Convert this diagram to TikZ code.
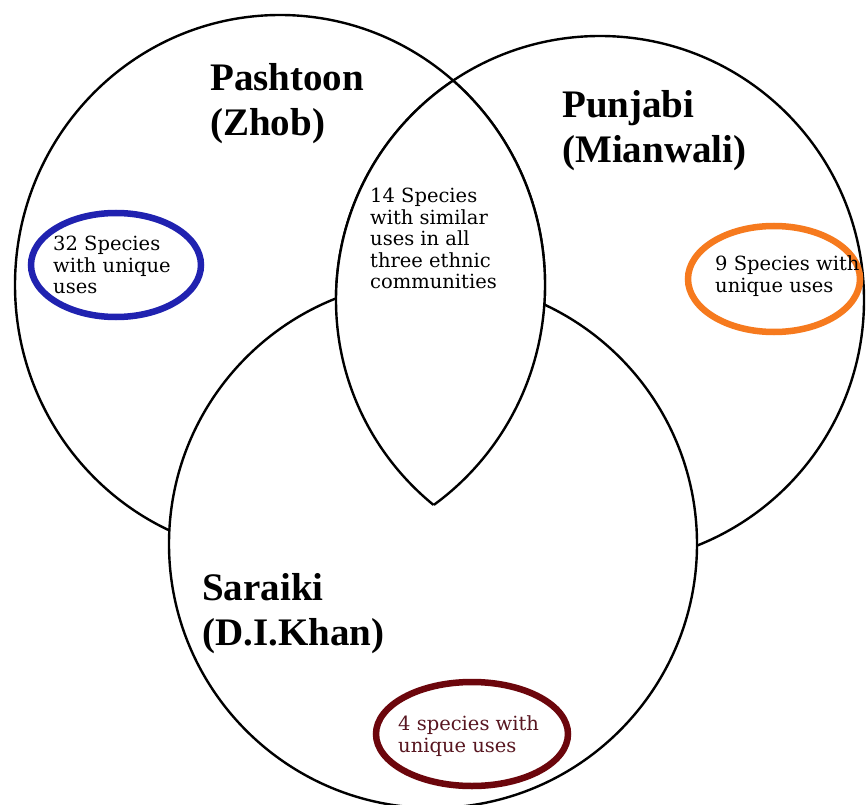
\documentclass[tikz,border=0pt]{standalone}
\usepackage{fontspec}
\setmainfont{Liberation Serif}
\newfontfamily\smallserif{DejaVu Serif}
\definecolor{tagblue}{RGB}{32,34,176}
\definecolor{tagorange}{RGB}{246,122,30}
\definecolor{tagmaroon}{RGB}{108,6,12}
\definecolor{textmaroon}{RGB}{88,22,32}
\begin{document}
\begin{tikzpicture}[x=1pt,y=-1pt,
  ring/.style={line width=2.4pt},
  tagring/.style={line width=6.5pt},
  biglabel/.style={font=\bfseries\fontsize{39}{45}\selectfont, align=left, anchor=north west, inner sep=0pt},
  smalllabel/.style={font=\smallserif\fontsize{19.5}{21.5}\selectfont, align=left, anchor=north west, inner sep=0pt}]
\useasboundingbox (0,0) rectangle (867,805);
\fill[white] (0,0) rectangle (867,805);
\coordinate (cL) at (280,285);
\coordinate (cR) at (600,300);
\coordinate (cB) at (433,544);
% left and right sets
\draw[ring] (cL) ellipse [x radius=265pt, y radius=270pt];
\draw[ring] (cR) circle [radius=264pt];
% bottom set, opaque
\draw[ring, fill=white] (cB) circle [radius=264pt];
% lens in front
\begin{scope}
  \clip (cL) ellipse [x radius=265pt, y radius=270pt];
  \fill[white] (cR) circle [radius=264pt];
  \draw[ring] (cR) circle [radius=264pt];
\end{scope}
\begin{scope}
  \clip (cR) circle [radius=264pt];
  \draw[ring] (cL) ellipse [x radius=265pt, y radius=270pt];
\end{scope}
% coloured rings
\draw[tagring, draw=tagblue] (116,265) ellipse [x radius=85pt, y radius=52pt];
\draw[tagring, draw=tagorange] (774,279) ellipse [x radius=86pt, y radius=53pt];
\draw[tagring, draw=tagmaroon] (472,734) ellipse [x radius=96pt, y radius=52pt];
% labels
\node[biglabel] (pash) at (210,63.5) {Pashtoon\\(Zhob)};
\node[biglabel] (punj) at (562,90.5) {Punjabi\\(Mianwali)};
\node[biglabel] (sara) at (202,573.5) {Saraiki\\(D.I.Khan)};
\node[smalllabel] (common) at (370,188) {14 Species\\with similar\\uses in all\\three ethnic\\communities};
\node[smalllabel] (uniqL) at (53,236) {32 Species\\with unique\\uses};
\node[smalllabel] (uniqR) at (715,255.6) {9 Species with\\unique uses};
\node[smalllabel, text=textmaroon] (uniqB) at (398,715.6) {4 species with\\unique uses};
\end{tikzpicture}
\end{document}
